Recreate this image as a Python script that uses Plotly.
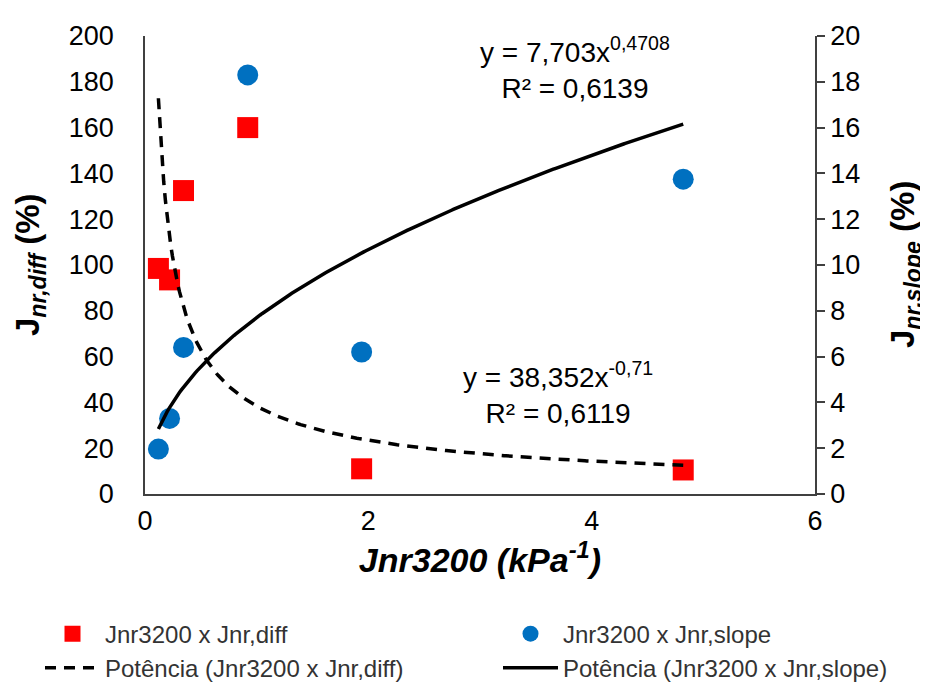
import numpy as np
import plotly.graph_objects as go

# Data
jnr3200 = [0.12, 0.22, 0.345, 0.92, 1.94, 4.82]
jnr_diff = [98.5, 93.5, 132.5, 160.0, 11.0, 10.5]
jnr_slope = [1.96, 3.3, 6.4, 18.3, 6.2, 13.75]

# Power trendline coefficients (as printed on the chart)
diff_coef, diff_exp = 38.352, -0.71
slope_coef, slope_exp = 7.703, 0.4708

x_ticks = [0, 2, 4, 6]
y_left_ticks = list(range(0, 201, 20))
y_right_ticks = list(range(0, 21, 2))

xs = np.linspace(min(jnr3200), max(jnr3200), 300)
diff_fit = diff_coef * xs ** diff_exp
slope_fit = slope_coef * xs ** slope_exp

FONT = "Liberation Sans, Arial, sans-serif"

fig = go.Figure()
fig.add_trace(go.Scatter(
    x=jnr3200, y=jnr_diff, mode="markers", name="Jnr3200 x Jnr,diff",
    marker=dict(symbol="square", size=21, color="#FF0000"),
    yaxis="y", legend="legend", legendrank=1))
fig.add_trace(go.Scatter(
    x=xs, y=diff_fit, mode="lines", name="Potência (Jnr3200 x Jnr,diff)",
    line=dict(color="black", width=3.5, dash="11px,8px"),
    yaxis="y", legend="legend", legendrank=2))
fig.add_trace(go.Scatter(
    x=jnr3200, y=jnr_slope, mode="markers", name="Jnr3200 x Jnr,slope",
    marker=dict(symbol="circle", size=21, color="#0070C0"),
    yaxis="y2", legend="legend2", legendrank=1))
fig.add_trace(go.Scatter(
    x=xs, y=slope_fit, mode="lines", name="Potência (Jnr3200 x Jnr,slope)",
    line=dict(color="black", width=3.5),
    yaxis="y2", legend="legend2", legendrank=2))

axis_line = dict(showline=True, linecolor="#404040", linewidth=1.5,
                 showgrid=False, zeroline=False)

legend_common = dict(orientation="v", xref="container", yref="container",
                     y=0.115, xanchor="left", yanchor="top",
                     itemwidth=55, tracegroupgap=0,
                     font=dict(size=24, family=FONT, color="#333333"),
                     bgcolor="rgba(0,0,0,0)")

fig.update_layout(
    width=928, height=682,
    paper_bgcolor="white", plot_bgcolor="white",
    margin=dict(l=137, r=121, t=28, b=196, autoexpand=False),
    font=dict(family=FONT, color="black"),
    xaxis=dict(range=[0, 6], tickvals=x_ticks, ticks="",
               tickfont=dict(size=27, family=FONT),
               ticklabelstandoff=2,
               title=dict(text="<b><i>Jnr3200 (kPa<sup>-1</sup>)</i></b>",
                          font=dict(size=34, family=FONT), standoff=10),
               **axis_line),
    yaxis=dict(range=[0, 200], tickvals=y_left_ticks, ticks="",
               tickfont=dict(size=27, family=FONT),
               ticklabelstandoff=24,
               **axis_line),
    yaxis2=dict(range=[0, 20], tickvals=y_right_ticks, overlaying="y",
                side="right", ticks="outside", ticklen=8, tickwidth=1.5,
                tickcolor="#404040",
                tickfont=dict(size=27, family=FONT),
                **axis_line),
    showlegend=True,
    legend=dict(x=32 / 928, **legend_common),
    legend2=dict(x=490 / 928, **legend_common),
    annotations=[
        dict(text="<b>J<sub><i>nr,diff</i></sub> (%)</b>",
             xref="paper", yref="paper", x=(22 - 137) / 670, y=0.5,
             xanchor="center", yanchor="middle", textangle=-90,
             showarrow=False, font=dict(size=33, family=FONT, color="black")),
        dict(text="<b>J<sub><i>nr,slope</i></sub> (%)</b>",
             xref="paper", yref="paper", x=(897 - 137) / 670, y=0.5,
             xanchor="center", yanchor="middle", textangle=-90,
             showarrow=False, font=dict(size=33, family=FONT, color="black")),
        dict(text="y = 7,703x<sup>0,4708</sup><br>R² = 0,6139",
             xref="paper", yref="paper", x=0.642, y=0.93,
             xanchor="center", yanchor="middle", showarrow=False,
             font=dict(size=28, family=FONT, color="black")),
        dict(text="y = 38,352x<sup>-0,71</sup><br>R² = 0,6119",
             xref="paper", yref="paper", x=0.616, y=0.22,
             xanchor="center", yanchor="middle", showarrow=False,
             font=dict(size=28, family=FONT, color="black")),
    ],
)

fig.write_html("out.html")
